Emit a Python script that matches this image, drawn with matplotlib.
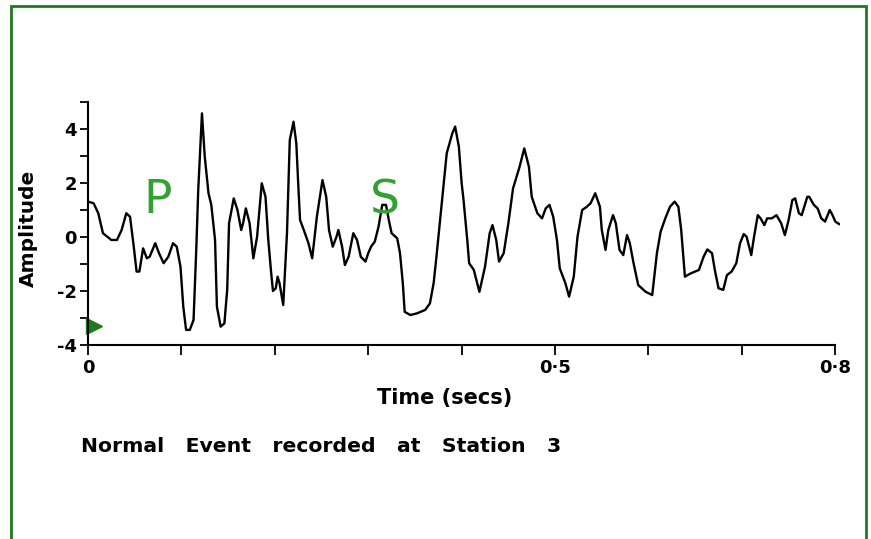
import matplotlib
matplotlib.use("Agg")
import matplotlib.pyplot as plt
from matplotlib.patches import Rectangle

time_s = [0.000, 0.006, 0.011, 0.016, 0.025, 0.031, 0.036, 0.041, 0.045, 0.049,
          0.052, 0.055, 0.059, 0.063, 0.066, 0.072, 0.076, 0.081, 0.086, 0.091,
          0.095, 0.099, 0.102, 0.105, 0.109, 0.113, 0.116, 0.118, 0.122, 0.125,
          0.129, 0.132, 0.136, 0.138, 0.142, 0.146, 0.149, 0.151, 0.156, 0.160,
          0.164, 0.166, 0.169, 0.173, 0.177, 0.181, 0.186, 0.190, 0.193, 0.196,
          0.198, 0.201, 0.203, 0.205, 0.205, 0.209, 0.211, 0.213, 0.216, 0.220,
          0.223, 0.225, 0.227, 0.231, 0.236, 0.240, 0.245, 0.251, 0.255, 0.258,
          0.262, 0.266, 0.268, 0.272, 0.275, 0.279, 0.284, 0.288, 0.292, 0.297,
          0.300, 0.303, 0.307, 0.311, 0.315, 0.319, 0.322, 0.325, 0.331, 0.334,
          0.337, 0.339, 0.345, 0.352, 0.361, 0.366, 0.370, 0.373, 0.379, 0.384,
          0.390, 0.393, 0.397, 0.400, 0.402, 0.406, 0.408, 0.413, 0.419, 0.425,
          0.430, 0.433, 0.437, 0.440, 0.445, 0.450, 0.455, 0.462, 0.467, 0.472,
          0.475, 0.481, 0.486, 0.490, 0.494, 0.498, 0.502, 0.505, 0.511, 0.515,
          0.520, 0.524, 0.529, 0.534, 0.538, 0.543, 0.548, 0.550, 0.554, 0.557,
          0.562, 0.565, 0.569, 0.573, 0.577, 0.580, 0.584, 0.589, 0.597, 0.604,
          0.609, 0.613, 0.618, 0.623, 0.628, 0.632, 0.635, 0.639, 0.645, 0.654,
          0.659, 0.663, 0.668, 0.671, 0.675, 0.680, 0.684, 0.689, 0.694, 0.698,
          0.702, 0.705, 0.710, 0.713, 0.717, 0.720, 0.724, 0.727, 0.732, 0.737,
          0.742, 0.746, 0.750, 0.754, 0.757, 0.761, 0.764, 0.770, 0.772, 0.777,
          0.781, 0.785, 0.789, 0.794, 0.797, 0.800, 0.804]

amplitude = [1.31, 1.25, 0.88, 0.14, -0.11, -0.11, 0.26, 0.88, 0.75, -0.36,
             -1.28, -1.28, -0.42, -0.79, -0.73, -0.23, -0.60, -0.97, -0.73, -0.23,
             -0.36, -1.10, -2.58, -3.44, -3.44, -3.07, -0.36, 1.74, 4.58, 2.97,
             1.62, 1.19, -0.11, -2.58, -3.32, -3.20, -1.96, 0.51, 1.43, 1.00,
             0.26, 0.51, 1.06, 0.51, -0.79, 0.01, 1.99, 1.49, -0.11, -1.30,
             -2.00, -1.90, -1.47, -1.71, -1.71, -2.52, -1.22, 0.14, 3.59, 4.27,
             3.47, 1.99, 0.63, 0.26, -0.23, -0.79, 0.75, 2.11, 1.49, 0.26,
             -0.36, 0.01, 0.26, -0.36, -1.04, -0.73, 0.14, -0.11, -0.73, -0.91,
             -0.60, -0.36, -0.17, 0.38, 1.19, 1.19, 0.63, 0.14, -0.05, -0.60,
             -1.71, -2.77, -2.89, -2.83, -2.70, -2.46, -1.71, -0.73, 1.37, 3.10,
             3.84, 4.09, 3.34, 1.99, 1.37, -0.11, -0.97, -1.22, -2.03, -1.10,
             0.14, 0.44, -0.11, -0.91, -0.60, 0.51, 1.80, 2.60, 3.28, 2.60,
             1.49, 0.88, 0.69, 1.06, 1.19, 0.75, -0.11, -1.16, -1.71, -2.21,
             -1.47, 0.01, 1.00, 1.12, 1.25, 1.62, 1.12, 0.26, -0.48, 0.26,
             0.81, 0.51, -0.48, -0.67, 0.07, -0.23, -0.97, -1.78, -2.03, -2.15,
             -0.60, 0.20, 0.69, 1.12, 1.31, 1.12, 0.26, -1.47, -1.35, -1.22,
             -0.73, -0.46, -0.60, -1.22, -1.90, -1.96, -1.41, -1.28, -0.97, -0.23,
             0.11, 0.01, -0.67, 0.01, 0.81, 0.69, 0.44, 0.69, 0.69, 0.81,
             0.51, 0.07, 0.63, 1.37, 1.43, 0.88, 0.81, 1.49, 1.49, 1.19,
             1.06, 0.69, 0.57, 1.00, 0.81, 0.57, 0.48]

y_ticks_major = [-4, -2, 0, 2, 4]
y_ticks_minor = [-3, -1, 1, 3, 5]
x_ticks = [0.0, 0.1, 0.2, 0.3, 0.4, 0.5, 0.6, 0.7, 0.8]
x_tick_labels = ["0", "", "", "", "", "0\u00b75", "", "", "0\u00b78"]
phase_labels = ["P", "S"]
phase_times = [0.075, 0.318]
phase_amps = [1.35, 1.35]
marker_time = [0.006]
marker_amp = [-3.3]

W, H = 871, 539
fig = plt.figure(figsize=(W / 100, H / 100), dpi=100)
fig.patch.set_facecolor("white")

ax = fig.add_axes([88 / W, 1 - 345 / H, (840 - 88) / W, (345 - 102) / H])
ax.plot(time_s, amplitude, color="black", lw=1.7, solid_joinstyle="round")
ax.set_xlim(0, 0.805)
ax.set_ylim(-4, 5)
ax.spines["top"].set_visible(False)
ax.spines["right"].set_visible(False)
ax.spines["bottom"].set_bounds(0, 0.8)
for s in ("left", "bottom"):
    ax.spines[s].set_linewidth(1.5)

ax.set_xticks(x_ticks)
ax.set_xticklabels(x_tick_labels)
ax.set_yticks(y_ticks_major)
ax.set_yticklabels([str(v) for v in y_ticks_major])
ax.set_yticks(y_ticks_minor, minor=True)
ax.tick_params(axis="both", which="both", direction="out", width=1.3, colors="black")
ax.tick_params(axis="x", length=7, pad=3)
ax.tick_params(axis="y", which="both", length=6, pad=2)
for lab in ax.get_xticklabels() + ax.get_yticklabels():
    lab.set_fontweight("bold")
    lab.set_fontsize(13)
    lab.set_family("DejaVu Sans")

ax.set_ylabel("Amplitude", fontsize=14.5, fontweight="bold", family="DejaVu Sans")
ax.yaxis.set_label_coords((38 - 88) / (840 - 88), (345 - 228) / (345 - 102))

for lbl, t, a in zip(phase_labels, phase_times, phase_amps):
    ax.text(t, a, lbl, color="#33a033", fontsize=34, ha="center", va="center",
            family="DejaVu Sans")

ax.plot(marker_time, marker_amp, marker=">", color="#1f7a1f", markersize=12,
        linestyle="none", clip_on=False)

fig.text(445 / W, 1 - 398 / H, "Time (secs)", fontsize=15, fontweight="bold",
         family="DejaVu Sans", ha="center", va="center")
fig.text(81 / W, 1 - 447 / H, "Normal   Event   recorded   at   Station   3", fontsize=14.7,
         fontweight="bold", family="DejaVu Sans", ha="left", va="center")

fig.patches.append(Rectangle((11 / W, -0.05), (866 - 11) / W, 1.05 - 6 / H,
                             transform=fig.transFigure, fill=False,
                             edgecolor="#1e7a1e", linewidth=2))

fig.savefig("out.png", dpi=100, facecolor="white")
